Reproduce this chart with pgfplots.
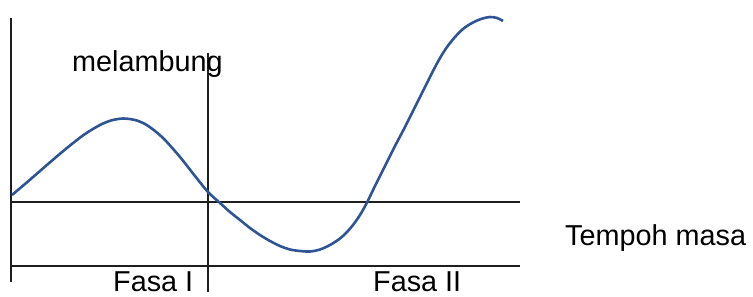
\documentclass[border=0pt]{standalone}
\usepackage{fontspec}
\setmainfont{Liberation Sans}
\usepackage{pgfplots}
\pgfplotsset{compat=1.18}
\definecolor{curveblue}{RGB}{46,84,150}
\definecolor{linegray}{RGB}{30,30,30}
\begin{document}
\begin{tikzpicture}
\begin{axis}[
  scale only axis, width=753bp, height=297bp,
  xmin=0, xmax=753, ymin=0, ymax=297, y dir=reverse,
  hide axis, clip=false,
]
% reference lines
\addplot[linegray, line width=1.2bp] coordinates {(11,18) (11,282)};
\addplot[linegray, line width=1.2bp] coordinates {(208,53) (208,292)};
\addplot[linegray, line width=1.2bp] coordinates {(11,202) (520,202)};
\addplot[linegray, line width=1.2bp] coordinates {(11,266) (520,266)};
% curve
\addplot[curveblue, line width=2.6bp, smooth, tension=0.5] coordinates {
(12,195) (25,184) (40,171) (55,158) (70,145.5) (85,134) (100,125) (111,120.5)
(123,118.5) (135,120) (145,124) (155,131) (165,140) (180,157) (195,176) (208,192)
(220,203) (230,212) (240,220) (250,228) (260,235) (270,241) (280,246) (290,249.5)
(300,251) (310,251.5) (320,249.5) (330,245) (340,238.5) (347,232) (353,225) (360,215)
(367,202.5) (375,186) (385,166) (395,146) (405,127) (415,107) (425,87) (433,71)
(440,58) (447,47) (455,37) (463,29) (472,23) (481,19) (490,17) (497,18) (503,21)
};
\node[anchor=base west, inner sep=0pt, font=\fontsize{28.8bp}{34bp}\selectfont] at (axis cs:72,71) {melambung};
\node[anchor=base west, inner sep=0pt, font=\fontsize{28.8bp}{34bp}\selectfont] at (axis cs:113,291) {Fasa I};
\node[anchor=base west, inner sep=0pt, font=\fontsize{28.8bp}{34bp}\selectfont] at (axis cs:373,291) {Fasa II};
\node[anchor=base west, inner sep=0pt, font=\fontsize{28.8bp}{34bp}\selectfont] at (axis cs:565,245) {Tempoh masa};
\end{axis}
\pgfresetboundingbox
\path (0,0) rectangle (753bp,297bp);
\end{tikzpicture}
\end{document}
